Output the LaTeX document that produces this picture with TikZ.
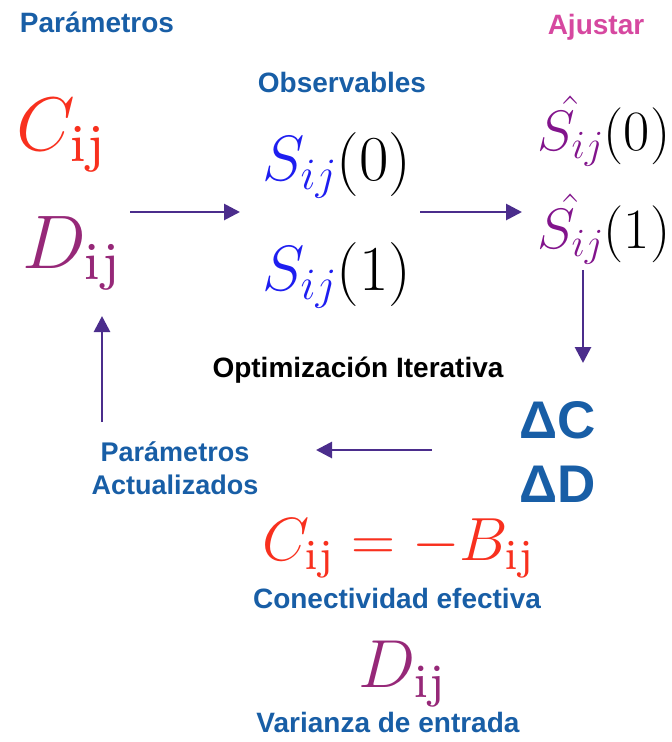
\RequirePackage{fix-cm}
\documentclass[tikz,border=0pt]{standalone}
\usepackage{amsmath}
\usepackage{fontspec}
\setsansfont{Liberation Sans}
\newfontfamily\idxfont{lmroman7-regular.otf}
\newcommand{\idx}{\text{\idxfont ij}}
\usetikzlibrary{arrows.meta}
\definecolor{lblblue}{RGB}{24, 94, 166}
\definecolor{fitpink}{RGB}{214, 72, 160}
\definecolor{cred}{RGB}{248, 48, 30}
\definecolor{dpurple}{RGB}{150, 40, 120}
\definecolor{sblue}{RGB}{30, 30, 240}
\definecolor{shpurple}{RGB}{130, 20, 140}
\definecolor{flowpurple}{RGB}{75, 45, 140}

\begin{document}
\begin{tikzpicture}[x=1pt, y=-1pt,
        lbl/.style={font=\sffamily\bfseries\fontsize{28}{33}\selectfont,
            text=lblblue, align=center, inner sep=0pt},
        eq/.style={inner sep=0pt, anchor=base west},
        delta/.style={inner sep=0pt, anchor=base west, text=lblblue,
            font=\sffamily\bfseries\fontsize{53}{60}\selectfont},
        flow/.style={-{Triangle[length=16pt, width=16pt]}, line width=2.8pt,
            draw=flowpurple}
    ]
    \useasboundingbox (0,0) rectangle (672,742);

    % titles
    \node[lbl] (tparam) at (97, 22) {Parámetros};
    \node[lbl] (tobs) at (342, 82) {Observables};
    \node[lbl, text=fitpink] (tfit) at (596, 27) {Ajustar};
    \node[lbl, text=black] (topt) at (358, 370) {Optimización Iterativa};
    \node[lbl, font=\sffamily\bfseries\fontsize{27}{33}\selectfont] (tupd) at (175, 468)
        {Parámetros\\Actualizados};

    % parameters
    \node[eq, font=\fontsize{76}{84}\selectfont] (cij) at (16, 150)
        {$\color{cred}C_{\idx}$};
    \node[eq, font=\fontsize{76}{84}\selectfont] (dij) at (22, 268)
        {$\color{dpurple}D_{\idx}$};

    % observables
    \node[eq, font=\fontsize{64}{70}\selectfont] (s0) at (262, 180)
        {${\color{sblue}S_{ij}}(0)$};
    \node[eq, font=\fontsize{64}{70}\selectfont] (s1) at (262, 290)
        {${\color{sblue}S_{ij}}(1)$};

    % fitted
    \node[eq, font=\fontsize{57}{62}\selectfont] (sh0) at (537, 150)
        {${\color{shpurple}\hat{S_{ij}}}(0)$};
    \node[eq, font=\fontsize{57}{62}\selectfont] (sh1) at (537, 248)
        {${\color{shpurple}\hat{S_{ij}}}(1)$};

    % updates
    \node[delta] (dc) at (519, 438) {ΔC};
    \node[delta] (dd) at (519, 502) {ΔD};

    % results
    \node[eq, font=\fontsize{61}{70}\selectfont] (ceq) at (262, 560)
        {$\color{cred}C_{\idx} = -B_{\idx}$};
    \node[lbl] (tcon) at (397, 598) {Conectividad efectiva};
    \node[eq, font=\fontsize{68}{76}\selectfont] (dres) at (358, 687)
        {$\color{dpurple}D_{\idx}$};
    \node[lbl] (tvar) at (388, 722) {Varianza de entrada};

    % arrow ends
    \coordinate (a1s) at (130, 212);
    \coordinate (a1e) at (240, 212);
    \coordinate (a2s) at (420, 212);
    \coordinate (a2e) at (522, 212);
    \coordinate (a3s) at (583, 270);
    \coordinate (a3e) at (583, 363);
    \coordinate (a4s) at (432, 450);
    \coordinate (a4e) at (316, 450);
    \coordinate (a5s) at (102, 422);
    \coordinate (a5e) at (102, 316);

    \draw[flow] (a1s) -- (a1e);
    \draw[flow] (a2s) -- (a2e);
    \draw[flow] (a3s) -- (a3e);
    \draw[flow] (a4s) -- (a4e);
    \draw[flow] (a5s) -- (a5e);
\end{tikzpicture}
\end{document}
